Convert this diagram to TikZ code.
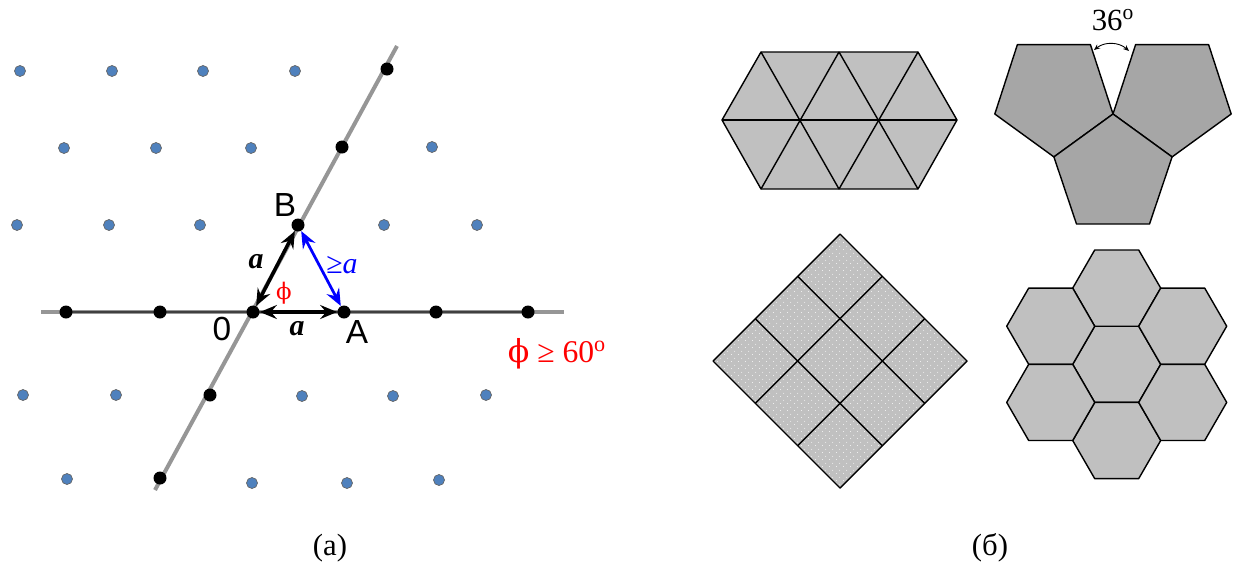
\documentclass[tikz,border=0pt]{standalone}
\usepackage{fontspec}
\setmainfont{Liberation Serif}
\newfontfamily\labfont{Liberation Sans}
\newfontfamily\grkfont{DejaVu Serif}
\usepackage{tikz}
\usetikzlibrary{arrows.meta,calc,patterns.meta}
\definecolor{siteblue}{RGB}{79,129,189}
\definecolor{tilegray}{RGB}{192,192,192}
\definecolor{pentgray}{RGB}{166,166,166}
\definecolor{linegray}{RGB}{150,150,150}
\tikzdeclarepattern{name=whitedots, type=uncolored,
  bounding box={(0pt,0pt) and (4pt,4pt)}, tile size={(4pt,4pt)},
  code={\fill (1pt,1pt) circle (0.3pt); \fill (3pt,3pt) circle (0.3pt);}}

\begin{document}
\begin{tikzpicture}[x=0.02cm, y=-0.02cm]
    \tikzstyle{site}=[circle, draw=black!60, fill=siteblue, inner sep=0pt, minimum size=0.22cm]
    \tikzstyle{atom}=[circle, fill=black, inner sep=0pt, minimum size=0.26cm]
    \tikzstyle{axisline}=[linegray, line width=0.08cm]
    \tikzstyle{vec}=[line width=0.07cm, {Stealth[length=0.34cm, width=0.28cm, inset=0.12cm]}-{Stealth[length=0.34cm, width=0.28cm, inset=0.12cm]}]
    \tikzstyle{tilebox}=[draw=black, line width=0.8pt, line join=round]
    \tikzstyle{lab}=[font=\labfont\fontsize{19}{21}\selectfont]
    \tikzstyle{len}=[font=\fontsize{17}{19}\selectfont\bfseries\itshape]
    \tikzstyle{captext}=[font=\fontsize{17.5}{20}\selectfont]
    \useasboundingbox (0,0) rectangle (1234,566);

    % (a) lattice
    \coordinate (hl) at (41,312);
    \coordinate (hr) at (564,312);
    \coordinate (dt) at (397,46);
    \coordinate (db) at (155,490);
    \draw[axisline] (hl) -- (hr);
    \draw[axisline] (db) -- (dt);
    \draw[black!75, line width=0.6pt] (66,312) -- (528,312);

    \foreach \x/\y [count=\i] in {20/71, 112/71, 203/71, 295/71,
        64/148, 156/148, 251/148, 432/147,
        17/225, 109/225, 200/225, 384/225, 477/225,
        23/395, 116/395, 302/396, 393/396, 486/395,
        67/479, 252/483, 347/483, 439/480}
      \node[site] (s\i) at (\x,\y) {};

    \node[atom] (O) at (253,312) {};
    \node[atom] (A) at (344,312) {};
    \node[atom] (B) at (298,225) {};
    \foreach \x/\y [count=\i] in {66/312, 160/312, 436/312, 528/312,
        387/69, 342/147, 210/395, 160/478}
      \node[atom] (d\i) at (\x,\y) {};

    \draw[vec] (O) -- (A);
    \draw[vec] (O) -- (B);
    \draw[vec, blue, line width=0.055cm] (B) -- (A);

    \node[lab] (Bl) at (285,205) {B};
    \node[lab] (Ol) at (222,329) {0};
    \node[lab] (Al) at (357,332) {A};
    \node[len] (aOB) at (256,262) {a};
    \node[len] (aOA) at (297,329) {a};
    \node[blue, font=\fontsize{17}{19}\selectfont] (aBA) at (342,265) {≥\textit{a}};
    \node[red, font=\grkfont\fontsize{13}{14}\selectfont] (phi) at (284,293) {ϕ};
    \node[red, font=\fontsize{18}{20}\selectfont] (cond) at (557,354) {{\grkfont ϕ} ≥ 60\textsuperscript{o}};
    \node[captext] (capa) at (330,548) {(a)};

    % (b) tilings
    % triangles
    \filldraw[tilebox, fill=tilegray] (761,52) -- (918,52) -- (957,120) -- (918,189)
      -- (761,189) -- (722,120) -- cycle;
    \draw[tilebox] (722,120) -- (957,120);
    \draw[tilebox] (761,52) -- (839,189) (839,52) -- (918,189);
    \draw[tilebox] (761,189) -- (839,52) (839,189) -- (918,52);

    % squares
    \coordinate (T) at (840,234);
    \coordinate (R) at (967,361);
    \coordinate (D) at (840,488);
    \coordinate (L) at (713,361);
    \fill[tilegray] (T) -- (R) -- (D) -- (L) -- cycle;
    \fill[pattern=whitedots, pattern color=white] (T) -- (R) -- (D) -- (L) -- cycle;
    \foreach \f in {0.3333,0.6667} {
      \draw[tilebox] ($(T)!\f!(R)$) -- ($(L)!\f!(D)$);
      \draw[tilebox] ($(T)!\f!(L)$) -- ($(R)!\f!(D)$);
    }
    \draw[tilebox] (T) -- (R) -- (D) -- (L) -- cycle;

    % pentagons
    \tikzstyle{pent}=[tilebox, fill=pentgray]
    \filldraw[pent] (1113,114) -- (1090.4,44.6) -- (1017.4,44.6) -- (994.8,114) -- (1053.9,156.9) -- cycle;
    \filldraw[pent] (1113,114) -- (1135.6,44.6) -- (1208.6,44.6) -- (1231.2,114) -- (1172.1,156.9) -- cycle;
    \filldraw[pent] (1113,114) -- (1172.1,156.9) -- (1149.5,224) -- (1076.5,224) -- (1053.9,156.9) -- cycle;
    \coordinate (gl) at (1094,50);
    \coordinate (gr) at (1129,51);
    \draw[{Stealth[length=0.12cm, width=0.1cm]}-{Stealth[length=0.12cm, width=0.1cm]}, line width=0.5pt] (gl) to[bend left=40] (gr);
    \node[captext] (ang) at (1113,20) {36\textsuperscript{o}};

    % hexagons
    \foreach \cx/\cy in {1116.7/364.3, 1116.7/288.1, 1116.7/440.5,
        1050.7/326.2, 1050.7/402.4, 1182.7/326.2, 1182.7/402.4}
      \filldraw[tilebox, fill=tilegray] (\cx,\cy) +(0:44) -- +(60:44) -- +(120:44)
        -- +(180:44) -- +(240:44) -- +(300:44) -- cycle;

    \node[captext] (capb) at (990,548) {(б)};
\end{tikzpicture}
\end{document}
